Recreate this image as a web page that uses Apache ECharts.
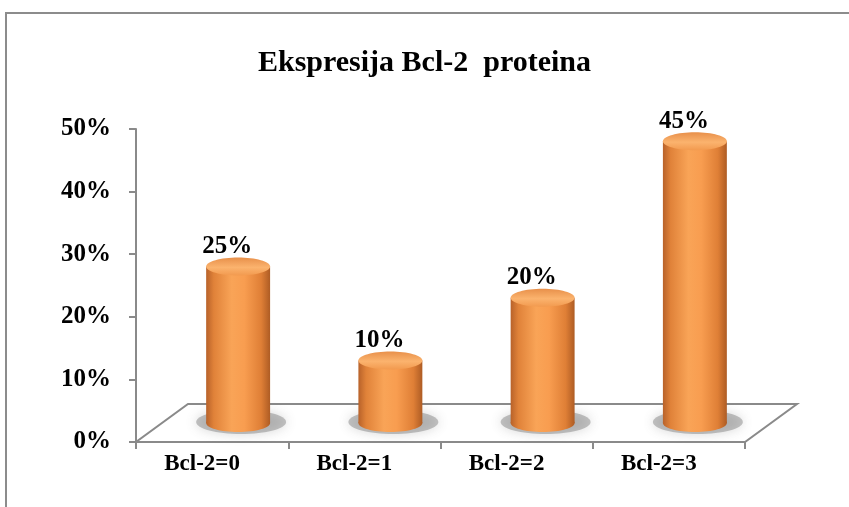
<!DOCTYPE html>
<html>
<head>
<meta charset="utf-8">
<script src="https://cdn.jsdelivr.net/npm/echarts@6/dist/echarts.min.js"></script>
<style>
html,body{margin:0;padding:0;background:#fff;}
#c{width:849px;height:507px;}
</style>
</head>
<body>
<div id="c"></div>
<script>
var titleText = 'Ekspresija Bcl-2  proteina';
var categories = ['Bcl-2=0', 'Bcl-2=1', 'Bcl-2=2', 'Bcl-2=3'];
var values = [0.25, 0.10, 0.20, 0.45];
var yTicks = [0, 0.1, 0.2, 0.3, 0.4, 0.5];

var FONT = '"Liberation Serif", "Times New Roman", serif';
var DEPTH_X = 52, DEPTH_Y = -38;
var axisGray = '#8a8a8a';

var chart = echarts.init(document.getElementById('c'));

function pct(v) { return Math.round(v * 100) + '%'; }

function renderFloor(params, api) {
  var cs = params.coordSys;
  var x0 = cs.x, x1 = cs.x + cs.width, y0 = cs.y + cs.height;
  return {
    type: 'polygon',
    shape: { points: [[x0, y0], [x1, y0], [x1 + DEPTH_X, y0 + DEPTH_Y], [x0 + DEPTH_X, y0 + DEPTH_Y]] },
    style: { fill: '#ffffff', stroke: axisGray, lineWidth: 2 },
    silent: true
  };
}

function renderCyl(params, api) {
  var idx = api.value(0), v = api.value(1);
  var top = api.coord([idx, v]);
  var base = api.coord([idx, 0]);
  var band = api.size([1, 0])[0];
  var rx = band * 0.21;
  var ry = 9;
  var cx = top[0] + DEPTH_X / 2;
  var ty = top[1] + DEPTH_Y / 2;
  var by = base[1] + DEPTH_Y / 2;
  var bodyGrad = new echarts.graphic.LinearGradient(0, 0, 1, 0, [
    { offset: 0, color: '#b8622a' },
    { offset: 0.12, color: '#e08239' },
    { offset: 0.4, color: '#f9a457' },
    { offset: 0.6, color: '#f89d50' },
    { offset: 0.86, color: '#df7f36' },
    { offset: 1, color: '#ae5c24' }
  ]);
  var topGrad = new echarts.graphic.LinearGradient(0, 0, 0, 1, [
    { offset: 0, color: '#e8904a' },
    { offset: 0.55, color: '#fbb36e' },
    { offset: 1, color: '#f29a4f' }
  ]);
  return {
    type: 'group',
    children: [
      {
        type: 'ellipse',
        shape: { cx: cx + 3, cy: by - 1, rx: rx + 13, ry: ry + 3 },
        style: { fill: 'rgba(110,110,110,0.4)', shadowBlur: 12, shadowColor: 'rgba(90,90,90,0.6)' },
        silent: true
      },
      {
        type: 'ellipse',
        shape: { cx: cx, cy: by, rx: rx, ry: ry },
        style: { fill: bodyGrad }
      },
      {
        type: 'rect',
        shape: { x: cx - rx, y: ty, width: rx * 2, height: by - ty },
        style: { fill: bodyGrad }
      },
      {
        type: 'ellipse',
        shape: { cx: cx, cy: ty, rx: rx, ry: ry },
        style: { fill: topGrad }
      },
      {
        type: 'text',
        x: cx - 11,
        y: ty - 20,
        style: {
          text: pct(v),
          fill: '#000',
          font: 'bold 25px ' + FONT,
          align: 'center',
          verticalAlign: 'middle'
        }
      }
    ]
  };
}

chart.setOption({
  backgroundColor: '#ffffff',
  animation: false,
  title: {
    text: titleText,
    left: 'center',
    top: 43,
    textStyle: { fontFamily: FONT, fontWeight: 'bold', fontSize: 30, color: '#000' }
  },
  graphic: [{
    type: 'rect',
    shape: { x: 6, y: 13, width: 900, height: 560 },
    style: { fill: 'none', stroke: '#8c8c8c', lineWidth: 2 },
    silent: true
  }],
  grid: { left: 136, right: 104, top: 129, bottom: 65 },
  xAxis: {
    type: 'category',
    data: categories,
    axisLine: { lineStyle: { color: axisGray, width: 2 } },
    axisTick: { show: true, length: 7, lineStyle: { color: axisGray, width: 2 } },
    axisLabel: { margin: 11, padding: [0, 20, 0, 0], color: '#000', fontFamily: FONT, fontWeight: 'bold', fontSize: 23 },
    splitLine: { show: false }
  },
  yAxis: {
    type: 'value',
    min: 0,
    max: 0.5,
    interval: 0.1,
    axisLine: { show: true, lineStyle: { color: axisGray, width: 2 } },
    axisTick: { show: true, length: 7, lineStyle: { color: axisGray, width: 2 } },
    axisLabel: { margin: 25, color: '#000', fontFamily: FONT, fontWeight: 'bold', fontSize: 25, formatter: function (v) { return pct(v); } },
    splitLine: { show: false }
  },
  series: [
    {
      type: 'custom',
      name: 'floor',
      renderItem: renderFloor,
      data: [[0, 0]],
      clip: false,
      silent: true,
      z: 1
    },
    {
      type: 'custom',
      name: 'Bcl-2',
      renderItem: renderCyl,
      data: values.map(function (v, i) { return [i, v]; }),
      clip: false,
      z: 3
    }
  ]
});
</script>
</body>
</html>
